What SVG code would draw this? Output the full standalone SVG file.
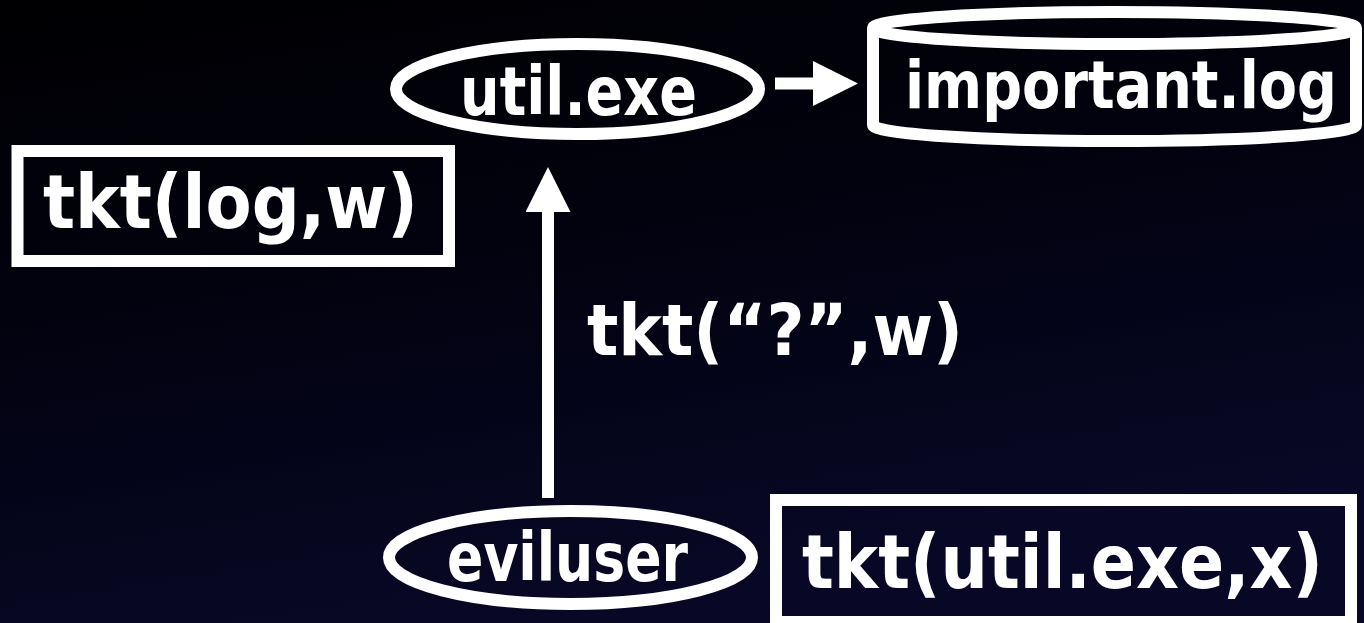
<svg xmlns="http://www.w3.org/2000/svg" width="1364" height="623" viewBox="0 0 1364 623">
  <defs>
    <linearGradient id="bg" x1="0" y1="0" x2="0.35" y2="1">
      <stop offset="0" stop-color="#000002"/>
      <stop offset="0.5" stop-color="#020210"/>
      <stop offset="1" stop-color="#080826"/>
    </linearGradient>
    <marker id="head" markerUnits="userSpaceOnUse" markerWidth="45" markerHeight="45" refX="0" refY="22.5" orient="auto" viewBox="0 0 45 45">
      <path d="M0,0 L45,22.5 L0,45 Z" fill="#ffffff"/>
    </marker>
    <style>
      .shape { fill: none; stroke: #ffffff; stroke-width: 12; }
      .label { fill: #ffffff; font-family: 'DejaVu Sans Condensed', 'DejaVu Sans', sans-serif; font-weight: bold; }
      .wire { stroke: #ffffff; stroke-width: 12; fill: none; }
    </style>
  </defs>

  <rect width="1364" height="623" fill="url(#bg)"/>

  <g id="connectors">
    <line class="wire" x1="775" y1="83.5" x2="813" y2="83.5" marker-end="url(#head)"/>
    <line class="wire" x1="548" y1="498" x2="548" y2="212" marker-end="url(#head)"/>
  </g>

  <g id="util-exe">
    <ellipse class="shape" cx="577.5" cy="89" rx="181.5" ry="45"/>
    <text class="label" x="460" y="115" font-size="67" textLength="237" lengthAdjust="spacingAndGlyphs">util.exe</text>
  </g>

  <g id="important-log">
    <path class="shape" d="M873,28 A241.5,16 0 0 1 1356,28 A241.5,16 0 0 1 873,28 Z M873,28 L873,125 A241.5,16 0 0 0 1356,125 L1356,28"/>
    <text class="label" x="905" y="108" font-size="66" textLength="432" lengthAdjust="spacingAndGlyphs">important.log</text>
  </g>

  <g id="ticket-log">
    <rect class="shape" x="17.5" y="151" width="431.5" height="110"/>
    <text class="label" x="43" y="228" font-size="74" textLength="375" lengthAdjust="spacingAndGlyphs">tkt(log,w)</text>
  </g>

  <g id="ticket-unknown">
    <text class="label" x="587" y="355" font-size="72" textLength="376" lengthAdjust="spacingAndGlyphs">tkt(“?”,w)</text>
  </g>

  <g id="eviluser">
    <ellipse class="shape" cx="570.5" cy="557.5" rx="181.5" ry="46.5"/>
    <text class="label" x="447" y="581" font-size="67" textLength="241" lengthAdjust="spacingAndGlyphs">eviluser</text>
  </g>

  <g id="ticket-util">
    <rect class="shape" x="776" y="500" width="575" height="122"/>
    <text class="label" x="802" y="588" font-size="74" textLength="521" lengthAdjust="spacingAndGlyphs">tkt(util.exe,x)</text>
  </g>
</svg>
